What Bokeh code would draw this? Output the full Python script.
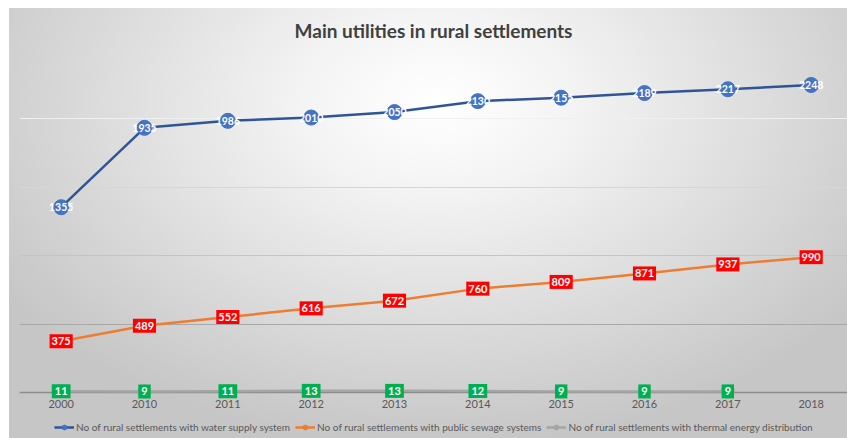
from bokeh.plotting import figure
from bokeh.models import Range1d, FixedTicker, Grid, Legend, LegendItem
from bokeh.embed import file_html
from bokeh.resources import INLINE
from bokeh.core.properties import value

# ---- data ----
years = ["2000", "2010", "2011", "2012", "2013", "2014", "2015", "2016", "2017", "2018"]
water = [1355, 1935, 1986, 2010, 2050, 2130, 2155, 2189, 2217, 2248]
sewage = [375, 489, 552, 616, 672, 760, 809, 871, 937, 990]
thermal = [11, 9, 11, 13, 13, 12, 9, 9, 9, None]
series_names = [
    "No of rural settlements with water supply system",
    "No of rural settlements with public sewage systems",
    "No of rural settlements with thermal energy distribution",
]
title_text = "Main utilities in rural settlements"
y_ticks = [0, 500, 1000, 1500, 2000, 2500]
grid_colors = ["#8c8c8c", "#a8a8a8", "#c4c4c4", "#d6d6d6", "#f0f0f0", "#f4f4f4"]

FONT = "Lato"
x = list(range(len(years)))
thermal_vals = [float("nan") if v is None else v for v in thermal]
tx = [i for i, v in zip(x, thermal) if v is not None]
ty = [v for v in thermal if v is not None]

p = figure(frame_width=828, frame_height=388, output_backend="svg", toolbar_location=None,
           x_range=Range1d(-0.5, 9.436), y_range=Range1d(-335, 2500),
           min_border_left=19, min_border_right=0, min_border_top=50, min_border_bottom=0)
p.styles = {"background": "radial-gradient(ellipse 62% 80% at 51% 22%, #ffffff 0%, #f4f4f4 25%, #c6c6c6 100%) 9px 8px / 838px 430px no-repeat, #ffffff"}
p.border_fill_alpha = 0
p.background_fill_alpha = 0
p.outline_line_color = None

p.title.text = title_text
p.title.align = "center"
p.title.text_font = FONT
p.title.text_font_size = "19px"
p.title.text_font_style = "bold"
p.title.text_color = "#404040"
p.title.standoff = 17

p.yaxis.visible = False
p.xgrid.visible = False
p.ygrid.visible = False
for t, c in zip(y_ticks, grid_colors):
    p.add_layout(Grid(dimension=1, ticker=FixedTicker(ticks=[t]), grid_line_color=c,
                      grid_line_width=1.3 if t == 0 else 1))

ax = p.xaxis[0]
ax.fixed_location = 0
ax.ticker = FixedTicker(ticks=x)
ax.major_label_overrides = {i: y for i, y in zip(x, years)}
ax.axis_line_color = None
ax.major_tick_line_color = None
ax.minor_tick_line_color = None
ax.major_tick_out = 0
ax.major_tick_in = 0
ax.major_label_standoff = 7
ax.major_label_text_font = FONT
ax.major_label_text_font_size = "11px"
ax.major_label_text_color = "#595959"

# water supply
l1 = p.line(x, water, line_color="#2F5597", line_width=2.5)
m1 = p.scatter(x, water, size=15, fill_color="#4472C4", line_color="#4472C4")
p.text(x, water, text=[str(v) for v in water], text_color="white", text_font=value(FONT),
       text_font_style="bold", text_font_size="10.5px", text_align="center", text_baseline="middle")

# sewage
l2 = p.line(x, sewage, line_color="#ED7D31", line_width=2.5)
m2 = p.scatter(x, sewage, size=8, fill_color="#ED7D31", line_color="#ED7D31")
p.text(x, sewage, text=[str(v) for v in sewage], text_color="white", text_font=value(FONT),
       text_font_style="bold", text_font_size="11px", text_align="center", text_baseline="middle",
       background_fill_color="#FF0000", padding=(2, 3))

# thermal
l3 = p.line(x, thermal_vals, line_color="#A5A5A5", line_width=2.5)
m3 = p.scatter(tx, ty, size=13, fill_color="#A5A5A5", line_color="#A5A5A5")
p.text(tx, ty, text=[str(v) for v in ty], text_color="white", text_font=value(FONT),
       text_font_style="bold", text_font_size="11px", text_align="center", text_baseline="middle",
       background_fill_color="#00B050", padding=(3, 3))

legend = Legend(items=[LegendItem(label=series_names[0], renderers=[l1, m1]),
                       LegendItem(label=series_names[1], renderers=[l2, m2]),
                       LegendItem(label=series_names[2], renderers=[l3, m3])],
                orientation="horizontal", location=(35, 5))
legend.background_fill_alpha = 0
legend.border_line_color = None
legend.label_text_font = FONT
legend.label_text_font_size = "10px"
legend.label_text_color = "#595959"
legend.glyph_width = 20
legend.glyph_height = 12
legend.label_height = 12
legend.label_standoff = 2
legend.spacing = 5
legend.padding = 2
legend.margin = 0
p.add_layout(legend, "center")

open("out.html", "w").write(file_html(p, INLINE))
